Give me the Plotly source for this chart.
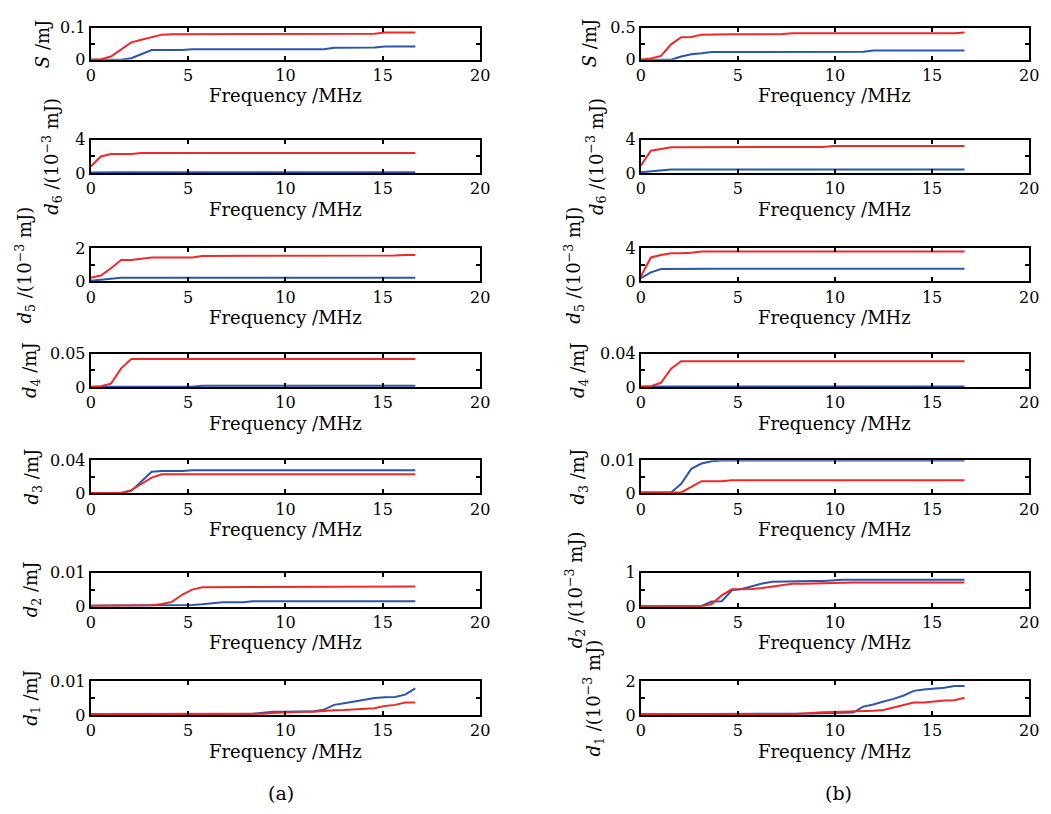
import plotly.graph_objects as go

W, H = 1051, 814

# Frequency grid (MHz)
freq = [0.00, 0.52, 1.04, 1.56, 2.08, 2.60, 3.13, 3.65, 4.17, 4.69, 5.21, 5.73, 6.25, 6.77,
        7.29, 7.81, 8.33, 8.85, 9.38, 9.90, 10.42, 10.94, 11.46, 11.98, 12.50, 13.02, 13.54,
        14.06, 14.58, 15.10, 15.63, 16.15, 16.67]

# ---------------- panel (a) ----------------
a_S_red = [0, 0.002, 0.01, 0.033, 0.054, 0.062, 0.069, 0.078, 0.079, 0.079, 0.081, 0.081, 0.081,
           0.081, 0.081, 0.081, 0.081, 0.081, 0.081, 0.081, 0.081, 0.081, 0.081, 0.081, 0.081,
           0.081, 0.081, 0.081, 0.081, 0.085, 0.085, 0.085, 0.085]
a_S_blue = [0, 0, 0, 0, 0.005, 0.018, 0.03, 0.03, 0.03, 0.03, 0.033, 0.033, 0.033, 0.033, 0.033,
            0.033, 0.033, 0.033, 0.033, 0.033, 0.033, 0.033, 0.033, 0.033, 0.037, 0.037, 0.037,
            0.037, 0.038, 0.041, 0.041, 0.041, 0.041]
a_d6_red = [0.8, 2.0, 2.3, 2.3, 2.3, 2.42, 2.42, 2.42, 2.42, 2.42, 2.42, 2.42, 2.42, 2.42, 2.42,
            2.42, 2.42, 2.42, 2.42, 2.42, 2.42, 2.42, 2.42, 2.42, 2.42, 2.42, 2.42, 2.42, 2.42,
            2.42, 2.42, 2.42, 2.42]
a_d6_blue = [0.06, 0.1, 0.1, 0.1, 0.1, 0.1, 0.1, 0.1, 0.1, 0.1, 0.1, 0.1, 0.1, 0.1, 0.1, 0.1,
             0.1, 0.1, 0.1, 0.1, 0.1, 0.1, 0.1, 0.1, 0.1, 0.1, 0.1, 0.1, 0.1, 0.1, 0.1, 0.1, 0.1]
a_d5_red = [0.22, 0.36, 0.8, 1.3, 1.3, 1.38, 1.44, 1.44, 1.44, 1.44, 1.44, 1.54, 1.54, 1.54, 1.54,
            1.54, 1.54, 1.54, 1.54, 1.54, 1.54, 1.54, 1.54, 1.54, 1.54, 1.54, 1.54, 1.54, 1.54,
            1.54, 1.56, 1.6, 1.6]
a_d5_blue = [0.05, 0.12, 0.18, 0.22, 0.22, 0.22, 0.22, 0.22, 0.22, 0.22, 0.22, 0.22, 0.22, 0.22,
             0.22, 0.22, 0.22, 0.22, 0.22, 0.22, 0.22, 0.22, 0.22, 0.22, 0.22, 0.22, 0.22, 0.22,
             0.22, 0.22, 0.22, 0.22, 0.22]
a_d4_red = [0, 0.001, 0.005, 0.028, 0.042, 0.042, 0.042, 0.042, 0.042, 0.042, 0.042, 0.042, 0.042,
            0.042, 0.042, 0.042, 0.042, 0.042, 0.042, 0.042, 0.042, 0.042, 0.042, 0.042, 0.042,
            0.042, 0.042, 0.042, 0.042, 0.042, 0.042, 0.042, 0.042]
a_d4_blue = [0.0005, 0.0005, 0.0005, 0.0005, 0.0005, 0.0005, 0.0005, 0.0005, 0.0005, 0.0005,
             0.0005, 0.0018, 0.0018, 0.0018, 0.0018, 0.0018, 0.0018, 0.0018, 0.0018, 0.0018,
             0.0018, 0.0018, 0.0018, 0.0018, 0.0018, 0.0018, 0.0018, 0.0018, 0.0018, 0.0018,
             0.0018, 0.0018, 0.0018]
a_d3_red = [0.0005, 0.0005, 0.0005, 0.0005, 0.004, 0.011, 0.019, 0.023, 0.023, 0.023, 0.023,
            0.023, 0.023, 0.023, 0.023, 0.023, 0.023, 0.023, 0.023, 0.023, 0.023, 0.023, 0.023,
            0.023, 0.023, 0.023, 0.023, 0.023, 0.023, 0.023, 0.023, 0.023, 0.023]
a_d3_blue = [0.0005, 0.0005, 0.0005, 0.0005, 0.003, 0.014, 0.026, 0.027, 0.027, 0.027, 0.028,
             0.028, 0.028, 0.028, 0.028, 0.028, 0.028, 0.028, 0.028, 0.028, 0.028, 0.028, 0.028,
             0.028, 0.028, 0.028, 0.028, 0.028, 0.028, 0.028, 0.028, 0.028, 0.028]
a_d2_red = [0.0003, 0.0003, 0.0003, 0.0003, 0.0003, 0.0003, 0.0004, 0.0008, 0.0014, 0.0035,
            0.005, 0.0057, 0.0057, 0.0057, 0.0057, 0.0057, 0.0058, 0.0059, 0.0059, 0.0059, 0.0059,
            0.0059, 0.0059, 0.0059, 0.0059, 0.0059, 0.0059, 0.0059, 0.0059, 0.0059, 0.0059,
            0.0059, 0.0059]
a_d2_blue = [0.0003, 0.0003, 0.0003, 0.0003, 0.0003, 0.0003, 0.0003, 0.0003, 0.0003, 0.0003,
             0.0005, 0.0007, 0.001, 0.0013, 0.0013, 0.0013, 0.0016, 0.0016, 0.0016, 0.0016,
             0.0016, 0.0016, 0.0016, 0.0016, 0.0016, 0.0016, 0.0016, 0.0016, 0.0016, 0.0016,
             0.0016, 0.0016, 0.0016]
a_d1_red = [0.0003, 0.0003, 0.0003, 0.0003, 0.0003, 0.0003, 0.0003, 0.0003, 0.0003, 0.0003,
            0.0003, 0.0003, 0.0003, 0.0003, 0.0003, 0.0003, 0.0003, 0.0004, 0.0006, 0.0008,
            0.0009, 0.001, 0.001, 0.0013, 0.0014, 0.0015, 0.0016, 0.0018, 0.002, 0.0027, 0.003,
            0.0037, 0.0037]
a_d1_blue = [0.0003, 0.0003, 0.0003, 0.0003, 0.0003, 0.0003, 0.0003, 0.0003, 0.0003, 0.0003,
             0.0003, 0.0003, 0.0003, 0.0003, 0.0003, 0.0003, 0.0004, 0.0007, 0.001, 0.001, 0.001,
             0.001, 0.0011, 0.0016, 0.003, 0.0035, 0.004, 0.0045, 0.005, 0.0052, 0.0053, 0.006,
             0.0078]

# ---------------- panel (b) ----------------
b_S_red = [0, 0.02, 0.06, 0.24, 0.35, 0.355, 0.39, 0.395, 0.395, 0.395, 0.395, 0.395, 0.395,
           0.395, 0.4, 0.41, 0.41, 0.41, 0.41, 0.41, 0.41, 0.41, 0.41, 0.41, 0.41, 0.41, 0.41,
           0.41, 0.41, 0.41, 0.41, 0.41, 0.425]
b_S_blue = [0, 0, 0, 0, 0.05, 0.085, 0.1, 0.12, 0.12, 0.12, 0.12, 0.12, 0.12, 0.12, 0.12, 0.12,
            0.12, 0.12, 0.12, 0.12, 0.12, 0.12, 0.125, 0.145, 0.145, 0.145, 0.145, 0.145, 0.145,
            0.145, 0.145, 0.145, 0.145]
b_d6_red = [0.9, 2.7, 2.9, 3.1, 3.1, 3.1, 3.1, 3.1, 3.1, 3.1, 3.1, 3.1, 3.1, 3.1, 3.1, 3.1, 3.1,
            3.1, 3.15, 3.25, 3.25, 3.25, 3.25, 3.25, 3.25, 3.25, 3.25, 3.25, 3.25, 3.25, 3.25,
            3.25, 3.25]
b_d6_blue = [0.1, 0.2, 0.3, 0.42, 0.42, 0.42, 0.42, 0.42, 0.42, 0.42, 0.42, 0.42, 0.42, 0.42,
             0.42, 0.42, 0.42, 0.42, 0.42, 0.42, 0.42, 0.42, 0.42, 0.42, 0.42, 0.42, 0.42, 0.42,
             0.42, 0.42, 0.42, 0.42, 0.42]
b_d5_red = [0.6, 2.9, 3.2, 3.4, 3.4, 3.45, 3.6, 3.6, 3.6, 3.6, 3.6, 3.6, 3.6, 3.6, 3.6, 3.6, 3.6,
            3.6, 3.6, 3.6, 3.6, 3.6, 3.6, 3.6, 3.6, 3.6, 3.6, 3.6, 3.6, 3.6, 3.6, 3.6, 3.6]
b_d5_blue = [0.4, 1.1, 1.5, 1.52, 1.52, 1.52, 1.52, 1.52, 1.52, 1.52, 1.52, 1.52, 1.52, 1.52,
             1.52, 1.52, 1.52, 1.52, 1.52, 1.52, 1.52, 1.52, 1.52, 1.52, 1.52, 1.52, 1.52, 1.52,
             1.52, 1.52, 1.52, 1.52, 1.52]
b_d4_red = [0, 0.001, 0.005, 0.022, 0.031, 0.031, 0.031, 0.031, 0.031, 0.031, 0.031, 0.031,
            0.031, 0.031, 0.031, 0.031, 0.031, 0.031, 0.031, 0.031, 0.031, 0.031, 0.031, 0.031,
            0.031, 0.031, 0.031, 0.031, 0.031, 0.031, 0.031, 0.031, 0.031]
b_d4_blue = [0.0005, 0.0005, 0.0005, 0.0005, 0.0005, 0.0005, 0.0005, 0.0005, 0.0005, 0.0005,
             0.0005, 0.0005, 0.0005, 0.0005, 0.0005, 0.0005, 0.0005, 0.0005, 0.0005, 0.0005,
             0.0005, 0.0005, 0.0005, 0.0005, 0.0005, 0.0005, 0.0005, 0.0005, 0.0005, 0.0005,
             0.0005, 0.0005, 0.0005]
b_d3_red = [0.0003, 0.0003, 0.0003, 0.0003, 0.0003, 0.002, 0.0037, 0.0037, 0.0037, 0.004, 0.004,
            0.004, 0.004, 0.004, 0.004, 0.004, 0.004, 0.004, 0.004, 0.004, 0.004, 0.004, 0.004,
            0.004, 0.004, 0.004, 0.004, 0.004, 0.004, 0.004, 0.004, 0.004, 0.004]
b_d3_blue = [0.0003, 0.0003, 0.0003, 0.0003, 0.0029, 0.0074, 0.009, 0.0097, 0.0099, 0.0099,
             0.0099, 0.0099, 0.0099, 0.0099, 0.0099, 0.0099, 0.0099, 0.0099, 0.0099, 0.0099,
             0.0099, 0.0099, 0.0099, 0.0099, 0.0099, 0.0099, 0.0099, 0.0099, 0.0099, 0.0099,
             0.0099, 0.0099, 0.0099]
b_d2_red = [0.01, 0.01, 0.01, 0.01, 0.01, 0.01, 0.01, 0.08, 0.33, 0.51, 0.51, 0.52, 0.55, 0.59,
            0.63, 0.67, 0.67, 0.68, 0.7, 0.71, 0.71, 0.71, 0.71, 0.71, 0.71, 0.71, 0.71, 0.71,
            0.71, 0.71, 0.71, 0.71, 0.71]
b_d2_blue = [0.01, 0.01, 0.01, 0.01, 0.01, 0.01, 0.02, 0.15, 0.16, 0.48, 0.52, 0.6, 0.68, 0.73,
             0.74, 0.75, 0.75, 0.75, 0.75, 0.78, 0.79, 0.79, 0.79, 0.79, 0.79, 0.79, 0.79, 0.79,
             0.79, 0.79, 0.79, 0.79, 0.79]
b_d1_red = [0.05, 0.05, 0.05, 0.05, 0.05, 0.05, 0.05, 0.05, 0.05, 0.05, 0.05, 0.05, 0.05, 0.05,
            0.05, 0.05, 0.1, 0.15, 0.17, 0.18, 0.19, 0.19, 0.2, 0.25, 0.3, 0.45, 0.6, 0.74, 0.74,
            0.8, 0.85, 0.87, 1.02]
b_d1_blue = [0.05, 0.05, 0.05, 0.05, 0.05, 0.05, 0.05, 0.05, 0.05, 0.05, 0.05, 0.05, 0.05, 0.05,
             0.05, 0.05, 0.07, 0.09, 0.11, 0.12, 0.14, 0.15, 0.5, 0.62, 0.8, 0.95, 1.15, 1.42,
             1.5, 1.55, 1.6, 1.7, 1.7]

# y-axis maxima and tick labels
a_ymax = [0.1, 4, 2, 0.05, 0.04, 0.01, 0.01]
a_ytop = ["0.1", "4", "2", "0.05", "0.04", "0.01", "0.01"]
b_ymax = [0.5, 4, 4, 0.04, 0.01, 1, 2]
b_ytop = ["0.5", "4", "4", "0.04", "0.01", "1", "2"]

a_labels = ["<i>S</i> /mJ", "<i>d</i><sub>6</sub> /(10<sup>−3</sup> mJ)",
            "<i>d</i><sub>5</sub> /(10<sup>−3</sup> mJ)", "<i>d</i><sub>4</sub> /mJ",
            "<i>d</i><sub>3</sub> /mJ", "<i>d</i><sub>2</sub> /mJ", "<i>d</i><sub>1</sub> /mJ"]
b_labels = ["<i>S</i> /mJ", "<i>d</i><sub>6</sub> /(10<sup>−3</sup> mJ)",
            "<i>d</i><sub>5</sub> /(10<sup>−3</sup> mJ)", "<i>d</i><sub>4</sub> /mJ",
            "<i>d</i><sub>3</sub> /mJ", "<i>d</i><sub>2</sub> /(10<sup>−3</sup> mJ)",
            "<i>d</i><sub>1</sub> /(10<sup>−3</sup> mJ)"]

x_ticks = [0, 5, 10, 15, 20]
x_title = "Frequency /MHz"

a_red = [a_S_red, a_d6_red, a_d5_red, a_d4_red, a_d3_red, a_d2_red, a_d1_red]
a_blue = [a_S_blue, a_d6_blue, a_d5_blue, a_d4_blue, a_d3_blue, a_d2_blue, a_d1_blue]
b_red = [b_S_red, b_d6_red, b_d5_red, b_d4_red, b_d3_red, b_d2_red, b_d1_red]
b_blue = [b_S_blue, b_d6_blue, b_d5_blue, b_d4_blue, b_d3_blue, b_d2_blue, b_d1_blue]

# ---------------- layout geometry (pixels) ----------------
rows_px = [(19, 52), (134, 168), (245, 279), (353, 387), (462, 496), (577, 612), (688, 723)]
cols_px = [(87, 482), (645, 1039)]
ylab_x = [[38, 48, 20, 27, 28, 27, 27], [593, 600, 577, 583, 582, 578, 597]]

RED = "#f0282a"
BLUE = "#2b55a8"
FONT = "DejaVu Serif"


def px(x):
    return x / W


def py(y):
    return 1 - y / H


fig = go.Figure()
layout = dict(width=W, height=H, margin=dict(l=0, r=0, t=0, b=0),
              paper_bgcolor="white", plot_bgcolor="white", showlegend=False,
              font=dict(family=FONT, size=16, color="black"))
annotations = []

panels = [(a_red, a_blue, a_ymax, a_ytop, a_labels), (b_red, b_blue, b_ymax, b_ytop, b_labels)]
n = 0
for c, (reds, blues, ymaxs, ytops, labels) in enumerate(panels):
    for r in range(7):
        n += 1
        xa = "x" if n == 1 else f"x{n}"
        ya = "y" if n == 1 else f"y{n}"
        top, bot = rows_px[r]
        left, right = cols_px[c]
        fig.add_trace(go.Scatter(x=freq, y=blues[r], mode="lines", xaxis=xa, yaxis=ya,
                                 line=dict(color=BLUE, width=2)))
        fig.add_trace(go.Scatter(x=freq, y=reds[r], mode="lines", xaxis=xa, yaxis=ya,
                                 line=dict(color=RED, width=2)))
        ymax = ymaxs[r]
        layout["xaxis" if n == 1 else f"xaxis{n}"] = dict(
            domain=[px(left), px(right)], anchor=ya, range=[0, 20],
            tickvals=x_ticks, ticktext=[str(v) for v in x_ticks],
            ticks="inside", ticklen=4, tickwidth=2, tickcolor="black",
            showline=True, linecolor="black", linewidth=2, mirror="ticks",
            showgrid=False, zeroline=False, tickfont=dict(family=FONT, size=16))
        layout["yaxis" if n == 1 else f"yaxis{n}"] = dict(
            domain=[py(bot), py(top)], anchor=xa, range=[0, ymax],
            tickvals=[0, ymax], ticktext=["0", ytops[r]],
            ticks="inside", ticklen=4, tickwidth=2, tickcolor="black",
            minor=dict(tickvals=[ymax / 2], ticks="inside", ticklen=4, tickwidth=2,
                       tickcolor="black", showgrid=False),
            showline=True, linecolor="black", linewidth=2, mirror="ticks",
            showgrid=False, zeroline=False, tickfont=dict(family=FONT, size=16))
        # x title
        annotations.append(dict(text=x_title, x=px((left + right) / 2), y=py(bot + 37),
                                xref="paper", yref="paper", showarrow=False,
                                xanchor="center", yanchor="middle",
                                font=dict(family=FONT, size=18)))
        # y title
        annotations.append(dict(text=labels[r], x=px(ylab_x[c][r]), y=py((top + bot) / 2),
                                xref="paper", yref="paper", showarrow=False, textangle=-90,
                                xanchor="center", yanchor="middle",
                                font=dict(family=FONT, size=18)))

annotations.append(dict(text="(a)", x=px(280), y=py(803), xref="paper", yref="paper",
                        showarrow=False, xanchor="center", yanchor="middle",
                        font=dict(family=FONT, size=19)))
annotations.append(dict(text="(b)", x=px(846), y=py(803), xref="paper", yref="paper",
                        showarrow=False, xanchor="center", yanchor="middle",
                        font=dict(family=FONT, size=19)))

layout["annotations"] = annotations
fig.update_layout(**layout)
fig.write_html("out.html")
